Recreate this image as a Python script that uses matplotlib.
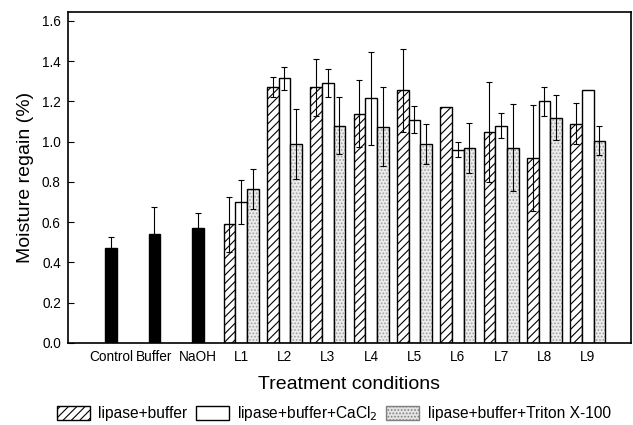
import matplotlib
matplotlib.use('Agg')
import matplotlib.pyplot as plt
import numpy as np
from matplotlib.patches import Patch

plt.rcParams['font.family'] = ['Liberation Sans', 'DejaVu Sans']
plt.rcParams['hatch.linewidth'] = 0.8

controls = ['Control', 'Buffer', 'NaOH']
control_vals = [0.47, 0.54, 0.57]
control_err = [0.055, 0.135, 0.078]

lipases = ['L1', 'L2', 'L3', 'L4', 'L5', 'L6', 'L7', 'L8', 'L9']
buffer_vals = [0.59, 1.27, 1.27, 1.14, 1.255, 1.17, 1.05, 0.92, 1.09]
buffer_err = [0.137, 0.05, 0.14, 0.166, 0.207, 0.0, 0.248, 0.262, 0.10]
cacl_vals = [0.70, 1.315, 1.29, 1.215, 1.11, 0.96, 1.08, 1.20, 1.255]
cacl_err = [0.11, 0.057, 0.07, 0.23, 0.065, 0.037, 0.061, 0.072, 0.0]
triton_vals = [0.765, 0.99, 1.08, 1.075, 0.99, 0.97, 0.97, 1.12, 1.005]
triton_err = [0.098, 0.175, 0.14, 0.196, 0.10, 0.125, 0.217, 0.11, 0.071]

fig = plt.figure(figsize=(6.33, 4.25), dpi=100)
ax = fig.add_axes([0.107, 0.193, 0.89, 0.779])

w = 0.27
xc = np.arange(len(controls))
xl = np.arange(len(lipases)) + len(controls)

ekw = dict(elinewidth=0.8, capsize=2, capthick=0.8, ecolor='black')

ax.bar(xc, control_vals, w, color='black', edgecolor='black',
       yerr=control_err, error_kw=ekw)

ax.bar(xl - w, buffer_vals, w, facecolor='white', edgecolor='black',
       hatch='////', linewidth=1.0)
ax.bar(xl, cacl_vals, w, facecolor='white', edgecolor='black', linewidth=1.0)
ax.bar(xl + w, triton_vals, w, facecolor='#ececec', edgecolor='#a0a0a0',
       hatch='.....', linewidth=0)
ax.bar(xl + w, triton_vals, w, facecolor='none', edgecolor='black', linewidth=1.0)

for off, vals, errs in [(-w, buffer_vals, buffer_err), (0, cacl_vals, cacl_err),
                        (w, triton_vals, triton_err)]:
    v = np.array(vals)
    e = np.array(errs)
    m = e > 0
    ax.errorbar(xl[m] + off, v[m], yerr=e[m], fmt='none', **ekw)

ax.set_xlim(-1, 12)
ax.set_ylim(0, 1.645)
ax.set_yticks(np.arange(0, 1.61, 0.2))
ax.set_yticklabels(['%.1f' % t for t in np.arange(0, 1.61, 0.2)])
ax.set_xticks(list(xc) + list(xl))
ax.set_xticklabels(controls + lipases)
ax.tick_params(axis='x', length=0, labelsize=9.8, pad=5)
ax.tick_params(axis='y', direction='in', length=4, labelsize=9.8, pad=5)
for s in ax.spines.values():
    s.set_linewidth(1.2)

ax.set_ylabel('Moisture regain (%)', fontsize=14, labelpad=6)
ax.set_xlabel('Treatment conditions', fontsize=14, labelpad=9)

handles = [
    Patch(facecolor='white', edgecolor='black', hatch='////'),
    Patch(facecolor='white', edgecolor='black'),
    Patch(facecolor='#e4e4e4', edgecolor='#808080', hatch='.....'),
]
labels = ['lipase+buffer', 'lipase+buffer+CaCl$_2$', 'lipase+buffer+Triton X-100']
fig.legend(handles, labels, loc='center left', bbox_to_anchor=(0.09, 0.026),
           ncol=3, frameon=False, fontsize=11.2, handlelength=2.1, handleheight=0.95,
           columnspacing=0.55, handletextpad=0.55, borderpad=0, borderaxespad=0)

fig.savefig('out.png', dpi=100)
